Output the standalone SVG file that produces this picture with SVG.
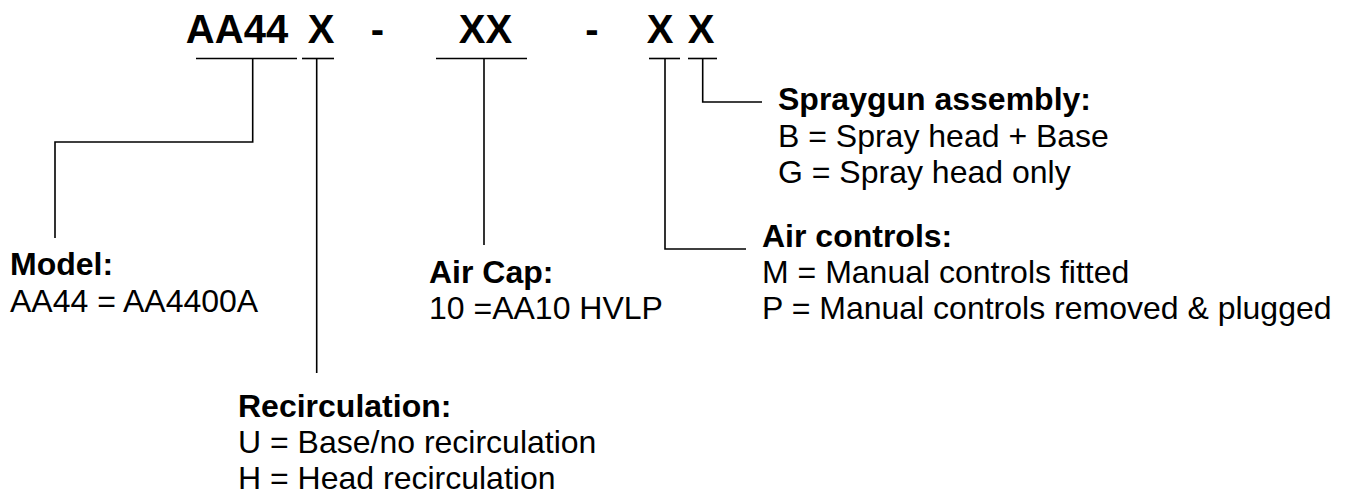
<svg xmlns="http://www.w3.org/2000/svg" width="1347" height="494" viewBox="0 0 1347 494">
<style>
text{font-family:"Liberation Sans",Arial,sans-serif;fill:#000}
.t{font-size:40px;font-weight:bold;text-anchor:middle}
.h{font-size:32px;font-weight:bold}
.b{font-size:32px}
.ln{stroke:#000;stroke-width:1.6;fill:none}
</style>
<rect width="1347" height="494" fill="#fff"/>
<g id="code">
<text class="t" x="237" y="43">AA44</text>
<text class="t" x="321" y="43">X</text>
<text class="t" x="377.5" y="43">-</text>
<text class="t" x="485.5" y="43">XX</text>
<text class="t" x="592" y="43">-</text>
<text class="t" x="660" y="43">X</text>
<text class="t" x="701" y="43">X</text>
</g>
<g id="connectors" class="ln">
<line x1="196" y1="58.5" x2="297" y2="58.5"/>
<line x1="302" y1="58.5" x2="334" y2="58.5"/>
<line x1="436" y1="58.5" x2="527" y2="58.5"/>
<line x1="649" y1="58.5" x2="680" y2="58.5"/>
<line x1="688" y1="58.5" x2="717" y2="58.5"/>
<polyline points="252.7,58.5 252.7,142 55,142 55,238"/>
<polyline points="316.7,58.5 316.7,373"/>
<polyline points="484,58.5 484,245"/>
<polyline points="665,58.5 665,249 746,249"/>
<polyline points="702.7,58.5 702.7,102 762,102"/>
</g>
<g id="model">
<text class="h" x="10" y="275">Model:</text>
<text class="b" x="10" y="312">AA44 = AA4400A</text>
</g>
<g id="recirculation">
<text class="h" x="238" y="417">Recirculation:</text>
<text class="b" x="238" y="453">U = Base/no recirculation</text>
<text class="b" x="238" y="489">H = Head recirculation</text>
</g>
<g id="aircap">
<text class="h" x="429" y="283">Air Cap:</text>
<text class="b" x="429" y="319">10 =AA10 HVLP</text>
</g>
<g id="aircontrols">
<text class="h" x="762" y="247">Air controls:</text>
<text class="b" x="762" y="283">M = Manual controls fitted</text>
<text class="b" x="762" y="319">P = Manual controls removed &amp; plugged</text>
</g>
<g id="spraygun">
<text class="h" x="778" y="110">Spraygun assembly:</text>
<text class="b" x="778" y="147">B = Spray head + Base</text>
<text class="b" x="778" y="183">G = Spray head only</text>
</g>
</svg>
